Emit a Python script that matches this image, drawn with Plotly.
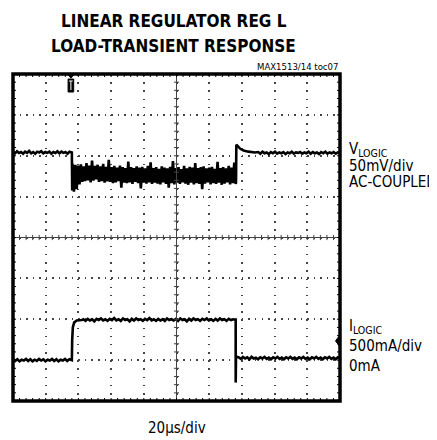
import numpy as np
import plotly.graph_objects as go

# ---------------- data (in screen divisions: x 0..10 @ 20us/div, y -4..4) ----------------
v_pre_vals = [2.10, 2.06, 2.11, 2.07, 2.09, 2.05, 2.10, 2.07, 2.12, 2.06, 2.09, 2.05, 2.10, 2.08, 2.11,
              2.06, 2.09, 2.07, 2.10, 2.05, 2.09, 2.07, 2.11, 2.06, 2.10, 2.07, 2.09, 2.05, 2.10, 2.08]
v_step_t = [1.80, 1.81]
v_step_vals = [2.08, 1.15]
v_noise_vals = [1.80, 1.12, 1.78, 1.18, 1.76, 1.30, 1.79, 1.36, 1.74, 1.38,
                1.82, 1.40, 1.76, 1.35, 1.88, 1.39, 1.75, 1.42, 1.78, 1.36,
                1.74, 1.38, 1.80, 1.34, 1.73, 1.37, 1.90, 1.36, 1.72, 1.33,
                1.75, 1.35, 1.71, 1.38, 1.76, 1.22, 1.72, 1.34, 1.70, 1.33,
                1.86, 1.35, 1.72, 1.31, 1.70, 1.36, 1.74, 1.33, 1.71, 1.20,
                1.73, 1.34, 1.69, 1.32, 1.75, 1.35, 1.84, 1.31, 1.70, 1.34,
                1.72, 1.32, 1.68, 1.30, 1.74, 1.35, 1.71, 1.31, 1.69, 1.22,
                1.73, 1.33, 1.87, 1.30, 1.70, 1.34, 1.72, 1.31, 1.67, 1.35,
                1.75, 1.32, 1.69, 1.29, 1.73, 1.34, 1.71, 1.30, 1.82, 1.33,
                1.70, 1.31, 1.72, 1.18, 1.74, 1.32, 1.69, 1.35, 1.71, 1.30,
                1.73, 1.33, 1.68, 1.31, 1.85, 1.34, 1.70, 1.29, 1.72, 1.32,
                1.69, 1.35, 1.75, 1.30, 1.71, 1.33, 1.83, 1.31]
v_settle_t = [6.82, 6.83, 6.88, 6.95, 7.05, 7.20, 7.40]
v_settle_vals = [1.35, 2.27, 2.22, 2.17, 2.13, 2.10, 2.08]
v_post_vals = [2.09, 2.05, 2.10, 2.06, 2.08, 2.04, 2.09, 2.06, 2.10, 2.05, 2.08, 2.06, 2.09, 2.04,
               2.08, 2.06, 2.10, 2.05, 2.08, 2.07, 2.09, 2.05, 2.08, 2.06, 2.10, 2.05, 2.09, 2.06,
               2.08, 2.04, 2.09, 2.06, 2.10, 2.05, 2.08, 2.06, 2.09, 2.05, 2.08, 2.07]

i_pre_vals = [-2.97, -3.02, -2.98, -3.03, -2.99, -3.01, -2.97, -3.02, -2.98, -3.03, -2.99, -3.02, -2.97, -3.01,
              -2.98, -3.03, -2.99, -3.01, -2.97, -3.02, -2.98, -3.03, -2.99, -3.01, -2.97, -3.02, -2.98, -3.00]
i_rise_t = [1.80, 1.81, 1.83, 1.87, 1.95, 2.10]
i_rise_vals = [-3.00, -2.50, -2.20, -2.08, -2.03, -2.02]
i_high_vals = [-2.00, -2.04, -1.99, -2.03, -2.00, -2.05, -1.99, -2.02, -1.98, -2.03, -2.00, -2.04, -1.99, -2.02,
               -1.97, -2.03, -2.00, -2.04, -1.98, -2.02, -2.00, -2.05, -1.99, -2.03, -1.98, -2.02, -2.00, -2.04,
               -1.99, -2.02, -1.97, -2.03, -2.00, -2.04, -1.99, -2.03, -2.00, -2.04, -1.98, -2.02, -2.00, -2.03,
               -1.99, -2.04, -1.98, -2.02, -2.00, -2.05, -1.99, -2.03, -1.98, -2.02, -2.00, -2.04, -1.99, -2.02,
               -1.98, -2.03, -2.00, -2.04, -1.99, -2.03, -1.98, -2.02, -2.00, -2.04, -1.99, -2.02, -2.00, -2.01]
i_fall_t = [6.81, 6.81, 6.82, 6.86]
i_fall_vals = [-2.00, -3.55, -2.90, -2.93]
i_post_vals = [-2.93, -2.97, -2.92, -2.96, -2.93, -2.98, -2.92, -2.96, -2.94, -2.98, -2.93, -2.96, -2.92, -2.97,
               -2.94, -2.98, -2.93, -2.96, -2.92, -2.97, -2.94, -2.98, -2.93, -2.96, -2.92, -2.97, -2.94, -2.98,
               -2.93, -2.96, -2.92, -2.97, -2.94, -2.98, -2.93, -2.96, -2.92, -2.97, -2.94, -2.98, -2.93, -2.96,
               -2.92, -2.97, -2.94, -2.98, -2.93, -2.95]

trigger_x = 1.77      # trigger position (div)
ground_y = -2.53      # I_LOGIC ground marker (div)

# ---------------- assemble traces ----------------
v_t = (list(np.linspace(0, 1.79, len(v_pre_vals))) + v_step_t
       + list(np.linspace(1.82, 6.81, len(v_noise_vals))) + v_settle_t
       + list(np.linspace(7.5, 10, len(v_post_vals))))
v_y = v_pre_vals + v_step_vals + v_noise_vals + v_settle_vals + v_post_vals

i_t = (list(np.linspace(0, 1.79, len(i_pre_vals))) + i_rise_t
       + list(np.linspace(2.15, 6.80, len(i_high_vals))) + i_fall_t
       + list(np.linspace(6.90, 10, len(i_post_vals))))
i_y = i_pre_vals + i_rise_vals + i_high_vals + i_fall_vals + i_post_vals

fig = go.Figure()
fig.add_trace(go.Scatter(x=v_t, y=v_y, mode="lines", line=dict(color="black", width=2.6),
                         hoverinfo="skip", showlegend=False))
fig.add_trace(go.Scatter(x=i_t, y=i_y, mode="lines", line=dict(color="black", width=2.6),
                         hoverinfo="skip", showlegend=False))

# page layout (page pixels); the browser's default body margin offsets the figure by OFF
OFF = 8
W, H = 437, 440
PL, PR, PT, PB = 13, 340, 74, 401          # plot box in page pixels
L, T = PL - OFF, PT - OFF
R = W - (PR - OFF)
B = H - (PB - OFF)
pw, ph = PR - PL, PB - PT
px_x = pw / 10.0
px_y = ph / 8.0

shapes = []
grid_col = "#444"
# center cross lines
shapes.append(dict(type="line", xref="x", yref="y", x0=0, x1=10, y0=0, y1=0, line=dict(color=grid_col, width=1)))
shapes.append(dict(type="line", xref="x", yref="y", x0=5, x1=5, y0=-4, y1=4, line=dict(color=grid_col, width=1)))
# ticks on center lines and border
tx = 2.6 / px_x
ty = 2.6 / px_y
bx = 3.0 / px_x
by = 3.0 / px_y
for k in range(1, 50):
    x = k * 0.2
    shapes.append(dict(type="line", xref="x", yref="y", x0=x, x1=x, y0=-ty, y1=ty, line=dict(color=grid_col, width=1)))
    shapes.append(dict(type="line", xref="x", yref="y", x0=x, x1=x, y0=4, y1=4 - by, line=dict(color="black", width=1)))
    shapes.append(dict(type="line", xref="x", yref="y", x0=x, x1=x, y0=-4, y1=-4 + by, line=dict(color="black", width=1)))
for k in range(1, 40):
    y = -4 + k * 0.2
    shapes.append(dict(type="line", xref="x", yref="y", x0=5 - tx, x1=5 + tx, y0=y, y1=y, line=dict(color=grid_col, width=1)))
    shapes.append(dict(type="line", xref="x", yref="y", x0=0, x1=bx, y0=y, y1=y, line=dict(color="black", width=1)))
    shapes.append(dict(type="line", xref="x", yref="y", x0=10, x1=10 - bx, y0=y, y1=y, line=dict(color="black", width=1)))
# border
shapes.append(dict(type="rect", xref="paper", yref="paper", x0=0, x1=1, y0=0, y1=1,
                   line=dict(color="black", width=3.5)))
# trigger marker
tw = 3.5 / px_x
shapes.append(dict(type="path", xref="x", yref="y",
                   path=f"M {trigger_x - tw},4 L {trigger_x + tw},4 L {trigger_x},{4 - 4 / px_y} Z",
                   fillcolor="black", line=dict(color="black", width=1)))
shapes.append(dict(type="rect", xref="x", yref="y", x0=trigger_x - 2.8 / px_x, x1=trigger_x + 2.8 / px_x,
                   y0=4 - 18 / px_y, y1=4 - 5 / px_y, fillcolor="black", line=dict(color="black", width=1)))
shapes.append(dict(type="line", xref="x", yref="y", x0=trigger_x - 1.8 / px_x, x1=trigger_x + 1.8 / px_x,
                   y0=4 - 7 / px_y, y1=4 - 7 / px_y, line=dict(color="white", width=1)))
shapes.append(dict(type="line", xref="x", yref="y", x0=trigger_x, x1=trigger_x,
                   y0=4 - 7 / px_y, y1=4 - 16 / px_y, line=dict(color="white", width=1)))
# ground marker
shapes.append(dict(type="path", xref="x", yref="y",
                   path=f"M {10 - 4.5 / px_x},{ground_y} L 10,{ground_y + 6 / px_y} L 10,{ground_y - 6 / px_y} Z",
                   fillcolor="black", line=dict(color="black", width=1)))

FONT = "Liberation Sans Narrow, Arial Narrow, DejaVu Sans Condensed, sans-serif"

def px2paper(x, y):
    return (x - PL) / pw, (PB - y) / ph

annotations = []
def add_text(text, x, y, size, xanchor="left", bold=False):
    ax, ay = px2paper(x, y)
    annotations.append(dict(text=f"<b>{text}</b>" if bold else text, x=ax, y=ay, xref="paper", yref="paper",
                            xanchor=xanchor, yanchor="middle", showarrow=False,
                            font=dict(family=FONT, size=size, color="black")))

add_text("LINEAR REGULATOR REG L", 173.5, 21.5, 17, "center", bold=True)
add_text("LOAD-TRANSIENT RESPONSE", 173.5, 46, 17, "center", bold=True)
add_text("MAX1513/14 toc07", 340, 67, 9.5, "right")
add_text("V<sub>LOGIC</sub>", 347, 149, 15)
add_text("50mV/div", 347, 166, 15)
add_text("AC-COUPLED", 347, 181.5, 15)
add_text("I<sub>LOGIC</sub>", 347, 326, 15)
add_text("500mA/div", 347, 345.5, 15)
add_text("0mA", 347, 366, 15)
add_text("20µs/div", 177, 428, 15, "center")

fig.update_layout(
    width=W, height=H,
    margin=dict(l=L, r=R, t=T, b=B, pad=0),
    paper_bgcolor="white", plot_bgcolor="white",
    showlegend=False,
    xaxis=dict(range=[0, 10], dtick=1, tick0=0, showgrid=True, gridcolor=grid_col, gridwidth=1.5,
               griddash="1.5px,6.68px", zeroline=False, showticklabels=False, ticks="", showline=False,
               fixedrange=True),
    yaxis=dict(range=[-4, 4], dtick=1, tick0=0, showgrid=True, gridcolor=grid_col, gridwidth=1.5,
               griddash="1.5px,5.04px", zeroline=False, showticklabels=False, ticks="", showline=False,
               fixedrange=True),
    shapes=shapes,
    annotations=annotations,
)

fig.write_html("out.html")
